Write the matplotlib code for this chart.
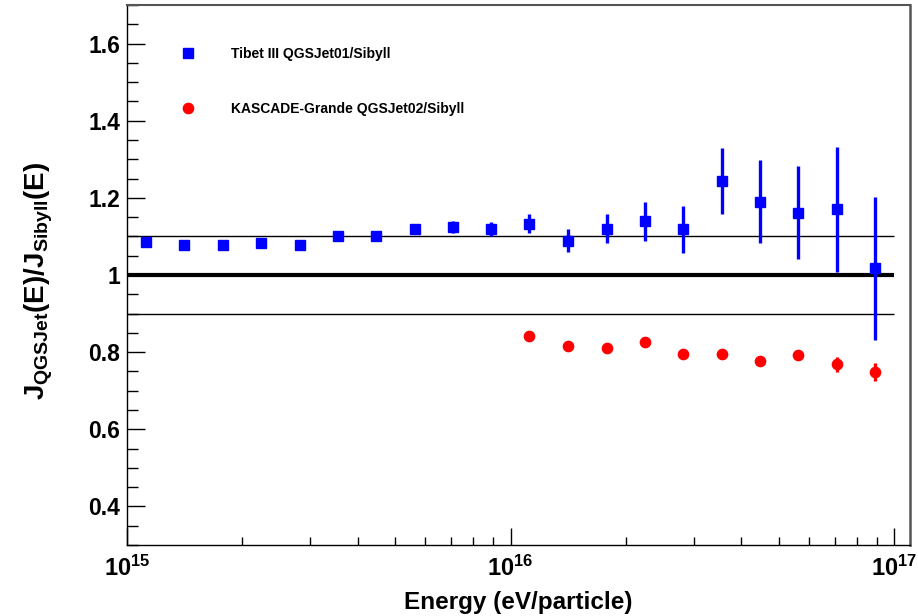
import matplotlib
matplotlib.use("Agg")
import matplotlib.pyplot as plt
import matplotlib.ticker as ticker
from matplotlib.lines import Line2D
import numpy as np

plt.rcParams['font.family'] = ['Liberation Sans', 'DejaVu Sans']
plt.rcParams['mathtext.fontset'] = 'custom'
plt.rcParams['mathtext.rm'] = 'Liberation Sans:bold'
plt.rcParams['mathtext.bf'] = 'Liberation Sans:bold'
plt.rcParams['mathtext.it'] = 'Liberation Sans:bold'
plt.rcParams['mathtext.default'] = 'rm'

# Tibet III QGSJet01/Sibyll
tibet_E = [1.12e15, 1.41e15, 1.78e15, 2.24e15, 2.82e15, 3.55e15, 4.47e15, 5.62e15, 7.08e15, 8.91e15,
           1.12e16, 1.41e16, 1.78e16, 2.24e16, 2.82e16, 3.55e16, 4.47e16, 5.62e16, 7.08e16, 8.91e16]
tibet_ratio = [1.085, 1.077, 1.078, 1.083, 1.079, 1.102, 1.100, 1.118, 1.125, 1.120,
               1.133, 1.089, 1.120, 1.139, 1.118, 1.243, 1.190, 1.162, 1.170, 1.017]
tibet_err = [0.008, 0.008, 0.008, 0.009, 0.009, 0.010, 0.010, 0.011, 0.015, 0.018,
             0.025, 0.030, 0.038, 0.050, 0.060, 0.086, 0.108, 0.120, 0.161, 0.185]

# KASCADE-Grande QGSJet02/Sibyll
kg_E = [1.12e16, 1.41e16, 1.78e16, 2.24e16, 2.82e16, 3.55e16, 4.47e16, 5.62e16, 7.08e16, 8.91e16]
kg_ratio = [0.843, 0.817, 0.812, 0.827, 0.794, 0.794, 0.778, 0.792, 0.768, 0.749]
kg_err = [0.005, 0.005, 0.005, 0.006, 0.006, 0.006, 0.007, 0.012, 0.019, 0.024]

ref_levels = [0.9, 1.0, 1.1]
ref_widths = [1.0, 3.0, 1.0]

fig = plt.figure(figsize=(9.18, 6.16), dpi=100)
ax = fig.add_axes([127 / 918, 1 - 545 / 616, 783 / 918, 540 / 616])

for lev, lw in zip(ref_levels, ref_widths):
    ax.hlines(lev, 1e15, 1e17, color='black', linewidth=lw, zorder=1)

ax.errorbar(tibet_E, tibet_ratio, yerr=tibet_err, fmt='s', color='blue', ms=7.9,
            elinewidth=2.4, capsize=0, zorder=3)
ax.errorbar(kg_E, kg_ratio, yerr=kg_err, fmt='o', color='red', ms=7.4,
            elinewidth=2.4, capsize=0, zorder=3)

ax.set_xscale('log')
ax.set_xlim(1e15, 1.1e17)
ax.set_ylim(0.3, 1.7)

ax.xaxis.set_major_locator(ticker.FixedLocator([1e15, 1e16, 1e17]))
ax.xaxis.set_minor_locator(ticker.LogLocator(base=10, subs=np.arange(2, 10)))
ax.xaxis.set_major_formatter(ticker.FuncFormatter(lambda v, p: r'$10^{%d}$' % round(np.log10(v))))
ax.xaxis.set_minor_formatter(ticker.NullFormatter())
ax.yaxis.set_major_locator(ticker.FixedLocator([0.4, 0.6, 0.8, 1.0, 1.2, 1.4, 1.6]))
ax.yaxis.set_minor_locator(ticker.MultipleLocator(0.05))
ax.yaxis.set_major_formatter(ticker.FuncFormatter(lambda v, p: '%g' % round(v, 2)))

ax.tick_params(axis='both', which='both', direction='in', top=False, right=False, color='black')
ax.tick_params(axis='y', which='major', length=13, width=1, labelsize=16.5, pad=5)
ax.tick_params(axis='y', which='minor', length=8, width=1)
ax.tick_params(axis='x', which='major', length=12, width=1, labelsize=17, pad=8)
ax.tick_params(axis='x', which='minor', length=6, width=1)
for lab in ax.get_yticklabels():
    lab.set_fontweight('bold')

ax.spines['left'].set_linewidth(1.0)
ax.spines['bottom'].set_linewidth(1.0)
ax.spines['top'].set_color('#555555')
ax.spines['right'].set_color('#555555')
ax.spines['top'].set_linewidth(1.5)
ax.spines['right'].set_linewidth(1.8)

ax.set_xlabel('Energy (eV/particle)', fontsize=17.5, fontweight='bold', labelpad=7)
ax.set_ylabel(r'$J_{QGSJet}(E)/J_{Sibyll}(E)$', fontsize=20)
ax.yaxis.set_label_coords(-0.092, 0.49)

handles = [Line2D([], [], linestyle='none', marker='s', color='blue', ms=7.9),
           Line2D([], [], linestyle='none', marker='o', color='red', ms=7.4)]
labels = ['Tibet III QGSJet01/Sibyll', 'KASCADE-Grande QGSJet02/Sibyll']
ax.legend(handles, labels, loc='upper left', bbox_to_anchor=(0.060, 0.922), frameon=False,
          prop={'weight': 'bold', 'size': 10}, handlelength=2.0, handletextpad=2.1,
          labelspacing=2.95, borderpad=0, borderaxespad=0, numpoints=1)

fig.savefig('out.png', dpi=100)
